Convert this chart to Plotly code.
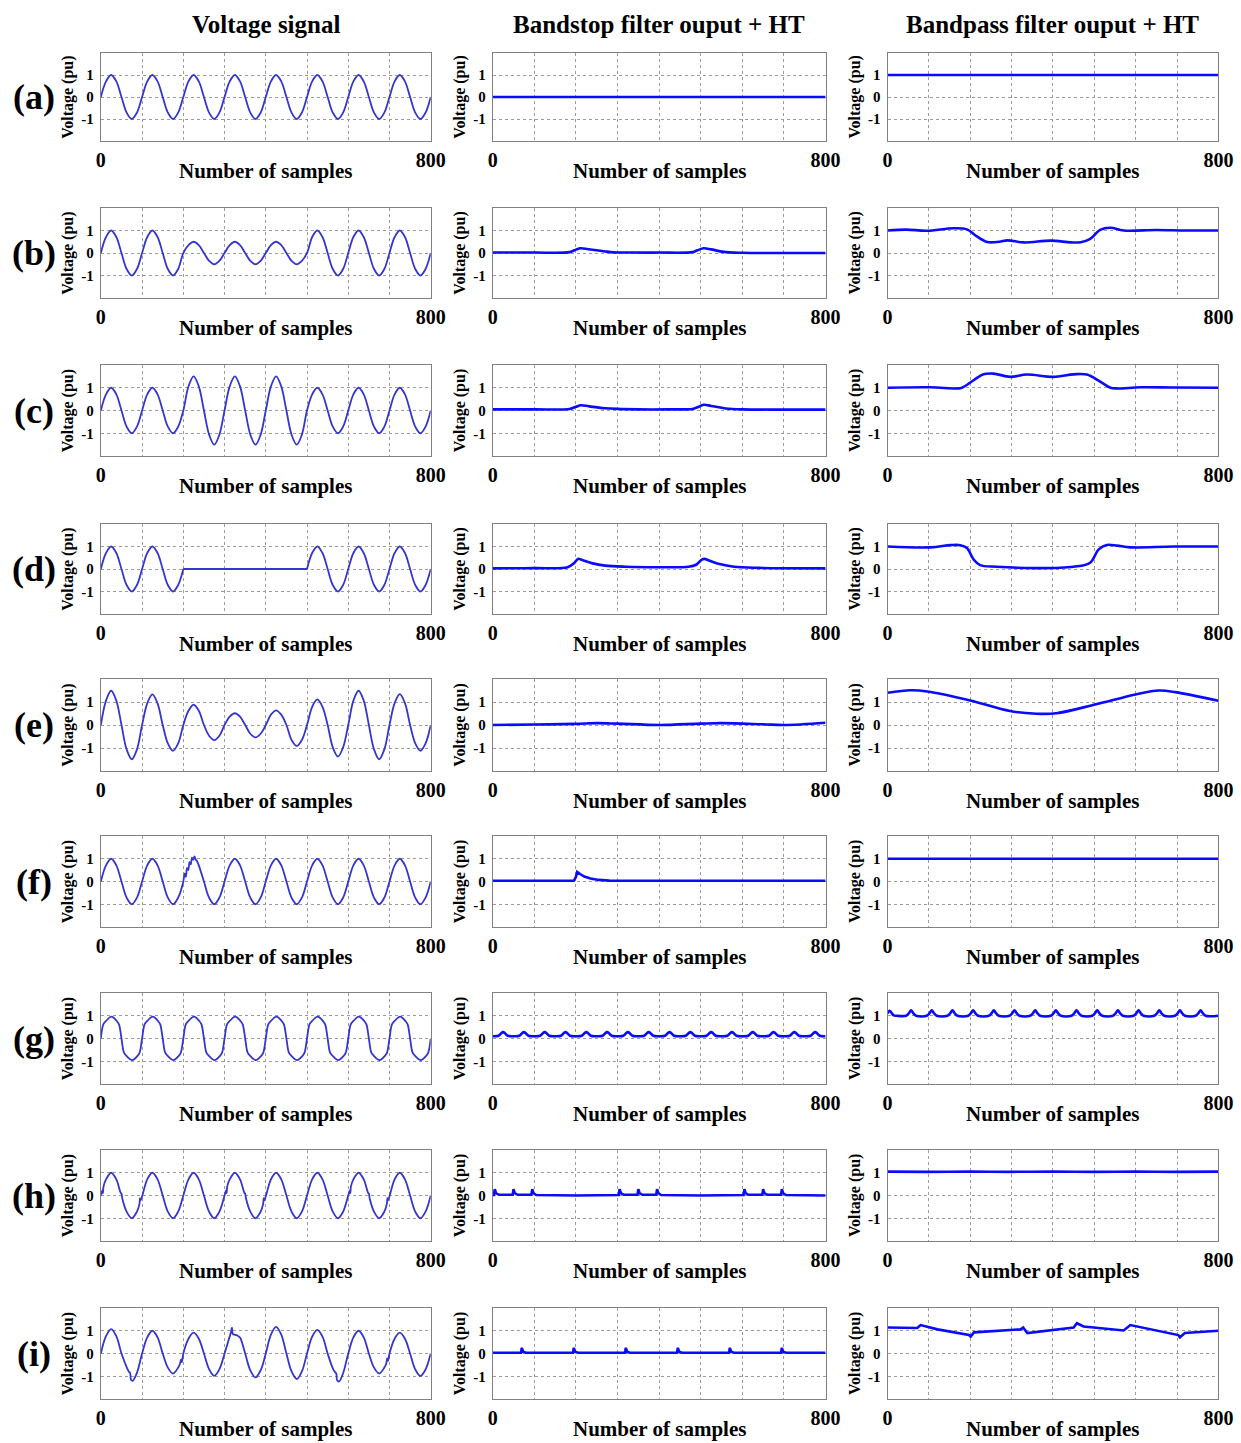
import plotly.graph_objects as go

# ---------------- data ----------------
X125 = [0, 12.5, 25, 37.5, 50, 62.5, 75, 87.5, 100, 112.5, 125, 137.5, 150, 162.5, 175, 187.5,
        200, 212.5, 225, 237.5, 250, 262.5, 275, 287.5, 300, 312.5, 325, 337.5, 350, 362.5, 375, 387.5,
        400, 412.5, 425, 437.5, 450, 462.5, 475, 487.5, 500, 512.5, 525, 537.5, 550, 562.5, 575, 587.5,
        600, 612.5, 625, 637.5, 650, 662.5, 675, 687.5, 700, 712.5, 725, 737.5, 750, 762.5, 775, 787.5, 800]

# Column 1: voltage signals
V_A = [0, .71, 1, .71, 0, -.71, -1, -.71, 0, .71, 1, .71, 0, -.71, -1, -.71,
       0, .71, 1, .71, 0, -.71, -1, -.71, 0, .71, 1, .71, 0, -.71, -1, -.71,
       0, .71, 1, .71, 0, -.71, -1, -.71, 0, .71, 1, .71, 0, -.71, -1, -.71,
       0, .71, 1, .71, 0, -.71, -1, -.71, 0, .71, 1, .71, 0, -.71, -1, -.71, 0]
V_B = [0, .71, 1, .71, 0, -.71, -1, -.71, 0, .71, 1, .71, 0, -.71, -1, -.71,
       0, .35, .5, .35, 0, -.35, -.5, -.35, 0, .35, .5, .35, 0, -.35, -.5, -.35,
       0, .35, .5, .35, 0, -.35, -.5, -.35, 0, .71, 1, .71, 0, -.71, -1, -.71,
       0, .71, 1, .71, 0, -.71, -1, -.71, 0, .71, 1, .71, 0, -.71, -1, -.71, 0]
V_C = [0, .71, 1, .71, 0, -.71, -1, -.71, 0, .71, 1, .71, 0, -.71, -1, -.71,
       0, 1.06, 1.5, 1.06, 0, -1.06, -1.5, -1.06, 0, 1.06, 1.5, 1.06, 0, -1.06, -1.5, -1.06,
       0, 1.06, 1.5, 1.06, 0, -1.06, -1.5, -1.06, 0, .71, 1, .71, 0, -.71, -1, -.71,
       0, .71, 1, .71, 0, -.71, -1, -.71, 0, .71, 1, .71, 0, -.71, -1, -.71, 0]
V_D1_X = [0, 12.5, 25, 37.5, 50, 62.5, 75, 87.5, 100, 112.5, 125, 137.5, 150, 162.5, 175, 187.5, 200]
V_D1_Y = [0, .71, 1, .71, 0, -.71, -1, -.71, 0, .71, 1, .71, 0, -.71, -1, -.71, 0]
V_D2_X = [200, 500]
V_D2_Y = [0, 0]
V_D3_X = [500, 512.5, 525, 537.5, 550, 562.5, 575, 587.5, 600, 612.5, 625, 637.5, 650, 662.5, 675, 687.5,
          700, 712.5, 725, 737.5, 750, 762.5, 775, 787.5, 800]
V_D3_Y = [0, .71, 1, .71, 0, -.71, -1, -.71, 0, .71, 1, .71, 0, -.71, -1, -.71,
          0, .71, 1, .71, 0, -.71, -1, -.71, 0]
V_E = [0, 1.06, 1.49, 1.06, 0, -1.06, -1.49, -1.06, 0, .94, 1.33, .94, 0, -.8, -1.12, -.8,
       0, .62, .88, .62, 0, -.47, -.66, -.47, 0, .36, .51, .36, 0, -.38, -.54, -.38,
       0, .45, .64, .45, 0, -.65, -.91, -.65, 0, .79, 1.11, .79, 0, -.97, -1.37, -.97,
       0, 1.06, 1.49, 1.06, 0, -1.06, -1.49, -1.06, 0, .95, 1.34, .95, 0, -.8, -1.12, -.8, 0]
V_F_X = [0, 12.5, 25, 37.5, 50, 62.5, 75, 87.5, 100, 112.5, 125, 137.5, 150, 162.5, 175, 187.5, 200,
         203, 206, 209, 212, 215, 218, 221, 224, 227, 230, 233,
         237.5, 250, 262.5, 275, 287.5, 300, 312.5, 325, 337.5, 350, 362.5, 375, 387.5,
         400, 412.5, 425, 437.5, 450, 462.5, 475, 487.5, 500, 512.5, 525, 537.5, 550, 562.5, 575, 587.5,
         600, 612.5, 625, 637.5, 650, 662.5, 675, 687.5, 700, 712.5, 725, 737.5, 750, 762.5, 775, 787.5, 800]
V_F_Y = [0, .71, 1, .71, 0, -.71, -1, -.71, 0, .71, 1, .71, 0, -.71, -1, -.71, 0,
         0.35, 0.2, 0.6, 0.5, 0.85, 0.75, 1.05, 0.95, 1.1, 0.97, 0.9,
         .71, 0, -.71, -1, -.71, 0, .71, 1, .71, 0, -.71, -1, -.71,
         0, .71, 1, .71, 0, -.71, -1, -.71, 0, .71, 1, .71, 0, -.71, -1, -.71,
         0, .71, 1, .71, 0, -.71, -1, -.71, 0, .71, 1, .71, 0, -.71, -1, -.71, 0]
V_G_X = [0, 6, 12, 26, 39, 44, 50, 56, 62, 76, 89, 94,
         100, 106, 112, 126, 139, 144, 150, 156, 162, 176, 189, 194,
         200, 206, 212, 226, 239, 244, 250, 256, 262, 276, 289, 294,
         300, 306, 312, 326, 339, 344, 350, 356, 362, 376, 389, 394,
         400, 406, 412, 426, 439, 444, 450, 456, 462, 476, 489, 494,
         500, 506, 512, 526, 539, 544, 550, 556, 562, 576, 589, 594,
         600, 606, 612, 626, 639, 644, 650, 656, 662, 676, 689, 694,
         700, 706, 712, 726, 739, 744, 750, 756, 762, 776, 789, 794, 800]
V_G_Y = [0, 0.62, 0.76, 0.96, 0.76, 0.62, 0, -0.62, -0.76, -0.95, -0.76, -0.62,
         0, 0.62, 0.76, 0.96, 0.76, 0.62, 0, -0.62, -0.76, -0.95, -0.76, -0.62,
         0, 0.62, 0.76, 0.96, 0.76, 0.62, 0, -0.62, -0.76, -0.95, -0.76, -0.62,
         0, 0.62, 0.76, 0.96, 0.76, 0.62, 0, -0.62, -0.76, -0.95, -0.76, -0.62,
         0, 0.62, 0.76, 0.96, 0.76, 0.62, 0, -0.62, -0.76, -0.95, -0.76, -0.62,
         0, 0.62, 0.76, 0.96, 0.76, 0.62, 0, -0.62, -0.76, -0.95, -0.76, -0.62,
         0, 0.62, 0.76, 0.96, 0.76, 0.62, 0, -0.62, -0.76, -0.95, -0.76, -0.62,
         0, 0.62, 0.76, 0.96, 0.76, 0.62, 0, -0.62, -0.76, -0.95, -0.76, -0.62, 0]
V_H_X = [0, 3.5, 5, 6.5, 12.5, 25, 37.5, 48, 50, 52, 62.5, 75, 87.5, 93.5, 95, 96.5,
         112.5, 125, 137.5, 150, 162.5, 175, 187.5, 200, 212.5, 225, 237.5, 250, 262.5, 275, 287.5,
         300, 303.5, 305, 306.5, 312.5, 325, 337.5, 348, 350, 352, 362.5, 375, 387.5, 393.5, 395, 396.5,
         412.5, 425, 437.5, 450, 462.5, 475, 487.5, 500, 512.5, 525, 537.5, 550, 562.5, 575, 587.5,
         600, 603.5, 605, 606.5, 612.5, 625, 637.5, 648, 650, 652, 662.5, 675, 687.5, 693.5, 695, 696.5,
         712.5, 725, 737.5, 750, 762.5, 775, 787.5, 800]
V_H_Y = [0, .22, .1, .4, .71, 1, .71, .12, .08, -.13, -.71, -1, -.71, -.38, -.12, -.21,
         .71, 1, .71, 0, -.71, -1, -.71, 0, .71, 1, .71, 0, -.71, -1, -.71,
         0, .22, .1, .4, .71, 1, .71, .12, .08, -.13, -.71, -1, -.71, -.38, -.12, -.21,
         .71, 1, .71, 0, -.71, -1, -.71, 0, .71, 1, .71, 0, -.71, -1, -.71,
         0, .22, .1, .4, .71, 1, .71, .12, .08, -.13, -.71, -1, -.71, -.38, -.12, -.21,
         .71, 1, .71, 0, -.71, -1, -.71, 0]
V_I_X = [0, 12.5, 25, 37.5, 50, 62.5, 68, 71, 73, 77, 87.5, 100,
         112.5, 125, 137.5, 150, 162.5, 175, 187.5, 192, 194.5, 196.5, 200,
         212.5, 225, 237.5, 250, 262.5, 275, 287.5, 300,
         310, 315, 318, 320, 326, 332, 337.5, 350, 362.5, 375, 387.5, 400,
         412.5, 425, 437.5, 450, 462.5, 475, 487.5, 500,
         512.5, 525, 537.5, 550, 562.5, 568, 571, 573, 578, 587.5, 600,
         612.5, 625, 637.5, 650, 662.5, 675, 687.5, 692, 694.5, 696.5, 700,
         712.5, 725, 737.5, 750, 762.5, 775, 787.5, 800]
V_I_Y = [0, .76, 1.07, .76, 0, -.6, -.8, -.86, -1.15, -1.2, -.85, 0,
         .71, 1.0, .71, 0, -.62, -.88, -.62, -.45, -.26, -.38, 0,
         .65, .92, .65, 0, -.69, -.98, -.69, 0,
         .6, .9, 1.14, .86, .82, .78, .7, 0, -.74, -1.05, -.74, 0,
         .83, 1.17, .83, 0, -.79, -1.12, -.79, 0,
         .74, 1.04, .74, 0, -.65, -.82, -.88, -1.18, -1.23, -.87, 0,
         .71, 1.0, .71, 0, -.62, -.88, -.62, -.45, -.22, -.32, 0,
         .65, .92, .65, 0, -.7, -.99, -.7, 0]

# Column 2: bandstop filter output + HT
BS_A_X = [0, 800]
BS_A_Y = [0, 0]
BS_B_X = [0, 100, 185, 200, 211, 230, 267, 290, 330, 400, 480, 492, 507, 525, 555, 600, 700, 800]
BS_B_Y = [0.02, 0.02, 0.04, 0.15, 0.21, 0.17, 0.08, 0.03, 0.02, 0.02, 0.04, 0.12, 0.21, 0.16, 0.05, 0.01, 0.0, 0.0]
BS_C_X = [0, 100, 185, 200, 212, 232, 270, 300, 350, 420, 480, 492, 507, 525, 560, 600, 700, 800]
BS_C_Y = [0.05, 0.05, 0.07, 0.16, 0.23, 0.18, 0.1, 0.07, 0.05, 0.05, 0.07, 0.14, 0.25, 0.2, 0.09, 0.05, 0.04, 0.04]
BS_D_X = [0, 100, 180, 195, 205, 215, 240, 270, 320, 400, 470, 490, 500, 508, 520, 545, 580, 640, 800]
BS_D_Y = [0.03, 0.04, 0.08, 0.25, 0.45, 0.4, 0.25, 0.15, 0.1, 0.08, 0.1, 0.2, 0.38, 0.45, 0.38, 0.22, 0.1, 0.05, 0.03]
BS_E_X = [0, 100, 200, 250, 300, 400, 500, 550, 650, 700, 800]
BS_E_Y = [0.0, 0.02, 0.05, 0.08, 0.06, 0.0, 0.06, 0.08, 0.03, 0.0, 0.1]
BS_F_X = [0, 195, 200, 203, 210, 220, 235, 255, 280, 320, 800]
BS_F_Y = [0.03, 0.03, 0.2, 0.42, 0.33, 0.22, 0.13, 0.07, 0.04, 0.03, 0.03]
BS_G_X = [0, 14, 20, 25, 30, 36, 50, 64, 70, 75, 80, 86, 100, 114, 120, 125, 130, 136,
          150, 164, 170, 175, 180, 186, 200, 214, 220, 225, 230, 236, 250, 264, 270, 275, 280, 286,
          300, 314, 320, 325, 330, 336, 350, 364, 370, 375, 380, 386, 400, 414, 420, 425, 430, 436,
          450, 464, 470, 475, 480, 486, 500, 514, 520, 525, 530, 536, 550, 564, 570, 575, 580, 586,
          600, 614, 620, 625, 630, 636, 650, 664, 670, 675, 680, 686, 700, 714, 720, 725, 730, 736,
          750, 764, 770, 775, 780, 786, 800]
BS_G_Y = [0.1, 0.12, 0.22, 0.28, 0.22, 0.12, 0.1, 0.12, 0.22, 0.28, 0.22, 0.12, 0.1, 0.12, 0.22, 0.28, 0.22, 0.12,
          0.1, 0.12, 0.22, 0.28, 0.22, 0.12, 0.1, 0.12, 0.22, 0.28, 0.22, 0.12, 0.1, 0.12, 0.22, 0.28, 0.22, 0.12,
          0.1, 0.12, 0.22, 0.28, 0.22, 0.12, 0.1, 0.12, 0.22, 0.28, 0.22, 0.12, 0.1, 0.12, 0.22, 0.28, 0.22, 0.12,
          0.1, 0.12, 0.22, 0.28, 0.22, 0.12, 0.1, 0.12, 0.22, 0.28, 0.22, 0.12, 0.1, 0.12, 0.22, 0.28, 0.22, 0.12,
          0.1, 0.12, 0.22, 0.28, 0.22, 0.12, 0.1, 0.12, 0.22, 0.28, 0.22, 0.12, 0.1, 0.12, 0.22, 0.28, 0.22, 0.12,
          0.1, 0.12, 0.22, 0.28, 0.22, 0.12, 0.1]
BS_H_X = [0, 3, 5, 8, 15, 48, 50, 53, 60, 93, 95, 98, 105, 200, 303, 305, 308, 315, 348, 350, 353, 360,
          393, 395, 398, 405, 500, 603, 605, 608, 615, 648, 650, 653, 660, 693, 695, 698, 705, 800]
BS_H_Y = [0.02, 0.02, 0.28, 0.1, 0.03, 0.03, 0.28, 0.1, 0.03, 0.03, 0.28, 0.1, 0.02, 0.0, 0.02, 0.28, 0.1, 0.03,
          0.03, 0.28, 0.1, 0.03, 0.03, 0.28, 0.1, 0.02, 0.0, 0.02, 0.28, 0.1, 0.03, 0.03, 0.28, 0.1, 0.03,
          0.03, 0.28, 0.1, 0.02, 0.0]
BS_I_X = [0, 68, 70, 73, 80, 193, 195, 198, 205, 318, 320, 323, 330, 443, 445, 448, 455,
          568, 570, 573, 580, 693, 695, 698, 705, 800]
BS_I_Y = [0.03, 0.03, 0.25, 0.08, 0.03, 0.03, 0.25, 0.08, 0.03, 0.03, 0.25, 0.08, 0.03, 0.03, 0.25, 0.08, 0.03,
          0.03, 0.25, 0.08, 0.03, 0.03, 0.25, 0.08, 0.03, 0.03]

# Column 3: bandpass filter output + HT
BP_A_X = [0, 800]
BP_A_Y = [1, 1]
BP_B_X = [0, 45, 95, 160, 192, 215, 241, 270, 290, 330, 395, 443, 467, 490, 514, 539, 571, 650, 720, 800]
BP_B_Y = [1.0, 1.04, 0.99, 1.1, 1.05, 0.75, 0.49, 0.5, 0.56, 0.47, 0.55, 0.47, 0.48, 0.63, 1.03, 1.12, 1.0, 1.02, 1.0, 1.0]
BP_C_X = [0, 104, 168, 180, 208, 232, 256, 297, 337, 401, 450, 482, 515, 539, 555, 612, 692, 800]
BP_C_Y = [1.0, 1.02, 0.97, 1.0, 1.33, 1.59, 1.62, 1.48, 1.58, 1.48, 1.59, 1.58, 1.26, 1.0, 0.97, 1.02, 1.01, 1.0]
BP_D_X = [0, 104, 152, 176, 192, 208, 224, 264, 361, 450, 490, 510, 530, 555, 587, 692, 800]
BP_D_Y = [1.0, 0.96, 1.06, 1.06, 0.93, 0.43, 0.17, 0.1, 0.04, 0.1, 0.28, 0.86, 1.07, 1.04, 0.96, 1.0, 1.0]
BP_E_X = [0, 56, 96, 200, 296, 360, 408, 504, 600, 656, 696, 800]
BP_E_Y = [1.4, 1.51, 1.46, 1.07, 0.61, 0.49, 0.51, 0.9, 1.33, 1.5, 1.43, 1.05]
BP_F_X = [0, 195, 200, 205, 800]
BP_F_Y = [1.0, 1.0, 1.03, 1.0, 1.0]
BP_G_X = [0, 5, 10, 15, 22, 45, 52, 57, 62, 69, 95, 102, 107, 112, 119, 145, 152, 157, 162, 169,
          195, 202, 207, 212, 219, 245, 252, 257, 262, 269, 295, 302, 307, 312, 319,
          345, 352, 357, 362, 369, 395, 402, 407, 412, 419, 445, 452, 457, 462, 469,
          495, 502, 507, 512, 519, 545, 552, 557, 562, 569, 595, 602, 607, 612, 619,
          645, 652, 657, 662, 669, 695, 702, 707, 712, 719, 745, 752, 757, 762, 769, 800]
BP_G_Y = [1.1, 1.22, 1.12, 1.02, 1.0, 1.0, 1.12, 1.24, 1.12, 1.0, 1.0, 1.12, 1.24, 1.12, 1.0,
          1.0, 1.12, 1.24, 1.12, 1.0, 1.0, 1.12, 1.24, 1.12, 1.0, 1.0, 1.12, 1.24, 1.12, 1.0,
          1.0, 1.12, 1.24, 1.12, 1.0, 1.0, 1.12, 1.24, 1.12, 1.0, 1.0, 1.12, 1.24, 1.12, 1.0,
          1.0, 1.12, 1.24, 1.12, 1.0, 1.0, 1.12, 1.24, 1.12, 1.0, 1.0, 1.12, 1.24, 1.12, 1.0,
          1.0, 1.12, 1.24, 1.12, 1.0, 1.0, 1.12, 1.24, 1.12, 1.0, 1.0, 1.12, 1.24, 1.12, 1.0,
          1.0, 1.12, 1.24, 1.12, 1.0, 1.0]
BP_H_X = [0, 100, 200, 300, 400, 500, 600, 700, 800]
BP_H_Y = [1.05, 1.04, 1.05, 1.04, 1.05, 1.04, 1.05, 1.04, 1.05]
BP_I_X = [0, 72, 80, 121, 197, 201, 209, 322, 328, 338, 450, 458, 474, 571, 587, 703, 707, 719, 800]
BP_I_Y = [1.14, 1.12, 1.25, 1.06, 0.81, 0.74, 0.93, 1.06, 1.14, 0.9, 1.14, 1.33, 1.19, 1.01, 1.25, 0.81, 0.71, 0.9, 1.0]

ROW_LABELS = ["(a)", "(b)", "(c)", "(d)", "(e)", "(f)", "(g)", "(h)", "(i)"]
COL_TITLES = ["Voltage signal", "Bandstop filter ouput + HT", "Bandpass filter ouput + HT"]
X_TICKS = [0, 100, 200, 300, 400, 500, 600, 700, 800]
X_TICK_TEXT = ["0", "", "", "", "", "", "", "", "800"]
Y_TICKS = [-1, 0, 1]
Y_TICK_TEXT = ["-1", "0", "1"]
X_TITLE = "Number of samples"
Y_TITLE = "Voltage (pu)"

PANELS = [
    [[(X125, V_A, "spline")], [(BS_A_X, BS_A_Y, "linear")], [(BP_A_X, BP_A_Y, "linear")]],
    [[(X125, V_B, "spline")], [(BS_B_X, BS_B_Y, "spline")], [(BP_B_X, BP_B_Y, "spline")]],
    [[(X125, V_C, "spline")], [(BS_C_X, BS_C_Y, "spline")], [(BP_C_X, BP_C_Y, "spline")]],
    [[(V_D1_X, V_D1_Y, "spline"), (V_D2_X, V_D2_Y, "linear"), (V_D3_X, V_D3_Y, "spline")],
     [(BS_D_X, BS_D_Y, "spline")], [(BP_D_X, BP_D_Y, "spline")]],
    [[(X125, V_E, "spline")], [(BS_E_X, BS_E_Y, "spline")], [(BP_E_X, BP_E_Y, "spline")]],
    [[(V_F_X, V_F_Y, "spline")], [(BS_F_X, BS_F_Y, "linear")], [(BP_F_X, BP_F_Y, "linear")]],
    [[(V_G_X, V_G_Y, "spline")], [(BS_G_X, BS_G_Y, "spline")], [(BP_G_X, BP_G_Y, "spline")]],
    [[(V_H_X, V_H_Y, "spline")], [(BS_H_X, BS_H_Y, "linear")], [(BP_H_X, BP_H_Y, "spline")]],
    [[(V_I_X, V_I_Y, "spline")], [(BS_I_X, BS_I_Y, "linear")], [(BP_I_X, BP_I_Y, "linear")]],
]

# ---------------- layout geometry (target pixels) ----------------
W, H = 1241, 1443
COL_X = [(100, 430), (492, 825), (887, 1218)]
ROW_TOP = [53, 208, 365, 524, 679, 836, 993, 1150, 1308]
ROW_H = [88, 90, 91, 90, 92, 91, 91, 91, 91]
# the captured page comes out slightly narrower horizontally; map target px -> paper fraction
XS, XB = 0.9843, 4.1


def fx(px):
    return (px - XB) / XS / W


def fy(py):
    return 1 - py / H


SERIF = "Liberation Serif"
LINE_COLORS = ["#3535cf", "#0a0aff", "#0a0aff"]
LINE_WIDTHS = [1.8, 2.6, 2.6]
GRID = "#9c9c9c"
BOX = "#808080"

fig = go.Figure()
layout = dict(width=W, height=H, autosize=False, margin=dict(l=0, r=0, t=0, b=0),
              paper_bgcolor="white", plot_bgcolor="white", showlegend=False)
annotations = []

for r in range(9):
    top = ROW_TOP[r]
    bot = top + ROW_H[r]
    for c in range(3):
        n = r * 3 + c + 1
        sfx = "" if n == 1 else str(n)
        xl, xr = COL_X[c]
        layout["xaxis" + sfx] = dict(
            domain=[fx(xl), fx(xr)], range=[0, 800], anchor="y" + sfx,
            tickvals=X_TICKS, ticktext=X_TICK_TEXT, ticks="", ticklabelstandoff=1,
            tickfont=dict(family=SERIF, size=20, color="black", weight="bold"),
            showgrid=True, gridcolor=GRID, griddash="dot", gridwidth=1,
            showline=True, linecolor=BOX, linewidth=1, mirror=True, zeroline=False,
            fixedrange=True)
        layout["yaxis" + sfx] = dict(
            domain=[fy(bot), fy(top)], range=[-2, 2], anchor="x" + sfx,
            tickvals=Y_TICKS, ticktext=Y_TICK_TEXT, ticks="", ticklabelstandoff=3,
            tickfont=dict(family=SERIF, size=15, color="black", weight="bold"),
            showgrid=True, gridcolor=GRID, griddash="dot", gridwidth=1,
            showline=True, linecolor=BOX, linewidth=1, mirror=True, zeroline=False,
            fixedrange=True)
        for (xs, ys, shape) in PANELS[r][c]:
            fig.add_trace(go.Scatter(
                x=xs, y=ys, mode="lines", xaxis="x" + sfx, yaxis="y" + sfx,
                line=dict(color=LINE_COLORS[c], width=LINE_WIDTHS[c], shape=shape, smoothing=1.0),
                hoverinfo="skip"))
        annotations.append(dict(
            text=X_TITLE, x=fx((xl + xr) / 2), y=fy(bot + 30),
            xref="paper", yref="paper", xanchor="center", yanchor="middle", showarrow=False,
            font=dict(family=SERIF, size=21, color="black", weight="bold")))
        annotations.append(dict(
            text=Y_TITLE, x=fx(xl - 33), y=fy((top + bot) / 2), textangle=-90,
            xref="paper", yref="paper", xanchor="center", yanchor="middle", showarrow=False,
            font=dict(family=SERIF, size=16, color="black", weight="bold")))
    annotations.append(dict(
        text=ROW_LABELS[r], x=fx(33), y=fy((top + bot) / 2),
        xref="paper", yref="paper", xanchor="center", yanchor="middle", showarrow=False,
        font=dict(family=SERIF, size=36, color="black", weight="bold")))

for c in range(3):
    xl, xr = COL_X[c]
    annotations.append(dict(
        text=COL_TITLES[c], x=fx((xl + xr) / 2), y=fy(24),
        xref="paper", yref="paper", xanchor="center", yanchor="middle", showarrow=False,
        font=dict(family=SERIF, size=25, color="black", weight="bold")))

layout["annotations"] = annotations
fig.update_layout(**layout)
fig.write_html("out.html", config={"responsive": False})
